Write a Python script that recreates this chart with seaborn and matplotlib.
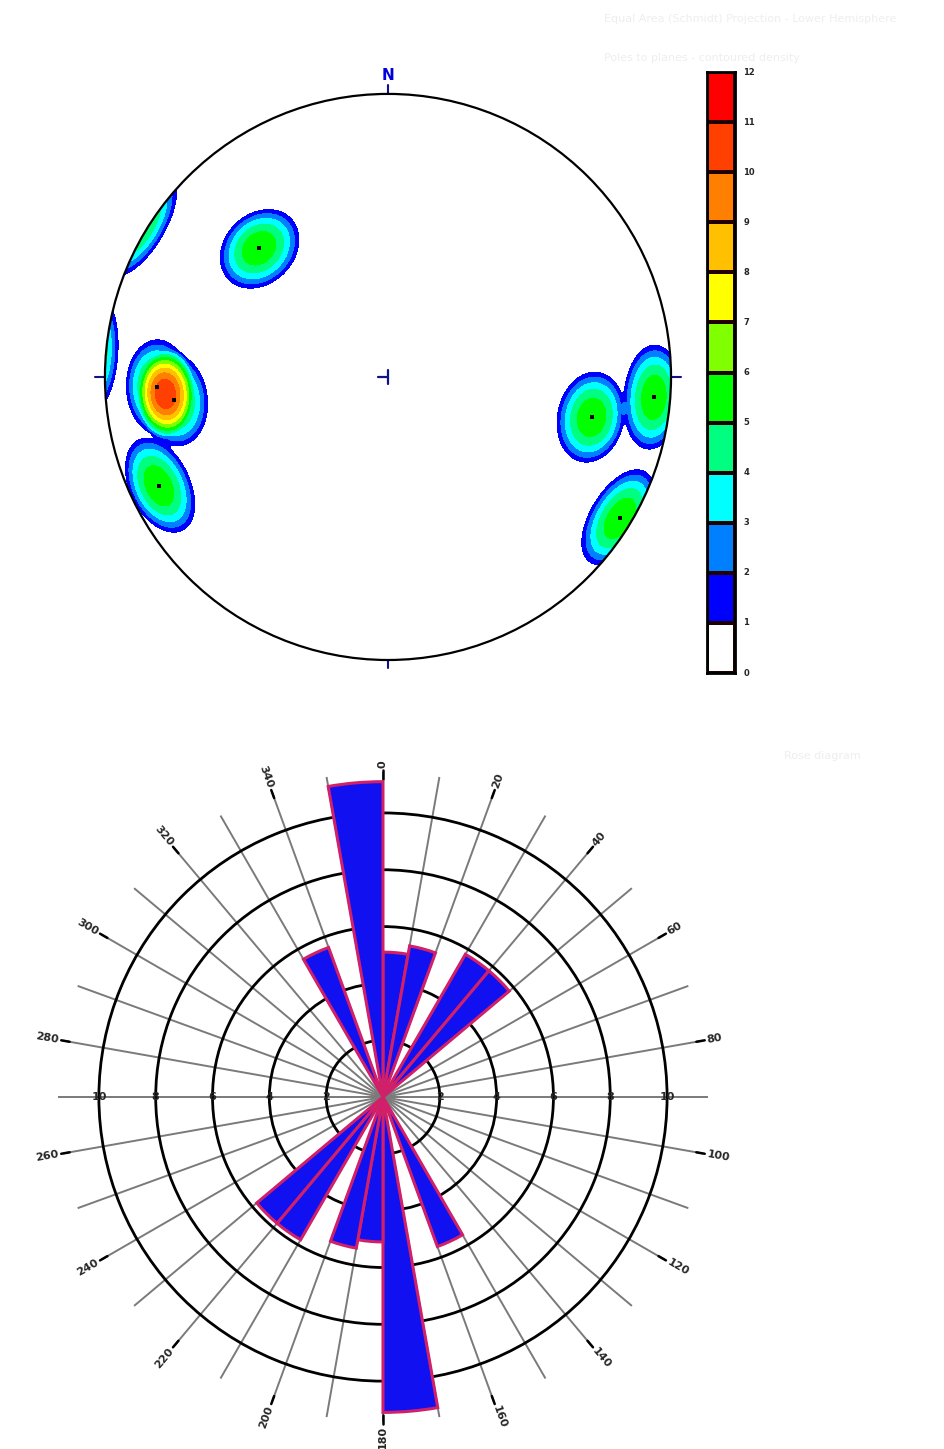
import numpy as np
import matplotlib
matplotlib.use('Agg')
import matplotlib.pyplot as plt
from matplotlib.colors import ListedColormap
from matplotlib.patches import Circle
import seaborn as sns

sns.set_theme(style='white')
plt.rcParams['font.family'] = ['DejaVu Sans']

# --- stereonet data: poles (equal-area projection, unit circle) ---
pole_x = [-0.456, -0.816, -0.757, -0.810, 0.720, 0.940, 0.820]
pole_y = [0.455, -0.037, -0.082, -0.385, -0.143, -0.072, -0.500]

band_colors = ['#ffffff', '#0000ff', '#0080ff', '#00ffff', '#00ff80', '#00ff00',
               '#80ff00', '#ffff00', '#ffc000', '#ff8000', '#ff4000', '#ff0000']
cbar_labels = ['0', '1', '2', '3', '4', '5', '6', '7', '8', '9', '10', '11', '12']

# --- rose diagram data: 10 degree bins 0-180 (mirrored for 180-360) ---
half_bins = list(range(0, 180, 10))
half_counts = [5.1, 5.4, 0, 5.8, 5.8, 0, 0, 0, 0, 0, 0, 0, 0, 0, 0, 5.6, 0, 11.1]
ring_values = [2, 4, 6, 8, 10]
dir_labels = list(range(0, 360, 20))


def to_vec(x, y):
    # lower hemisphere equal-area (Schmidt) -> unit vector
    r = np.sqrt(np.asarray(x) ** 2 + np.asarray(y) ** 2)
    th = 2 * np.arcsin(np.clip(r / np.sqrt(2), 0, 1))
    ph = np.arctan2(y, x)
    return np.stack([np.sin(th) * np.cos(ph), np.sin(th) * np.sin(ph), -np.cos(th)], -1)


fig = plt.figure(figsize=(9.44, 14.49), dpi=100)

# ==================== stereonet ====================
ax = fig.add_axes([0.0662, 0.5152, 0.6896, 0.4493])
g = np.linspace(-1.0, 1.0, 500)
gx, gy = np.meshgrid(g, g)
gv = to_vec(gx, gy)
pv = to_vec(pole_x, pole_y)
a0 = np.radians(12.2)
dens = np.zeros_like(gx)
for p in pv:
    ang = np.arccos(np.clip(np.abs(gv @ p), -1, 1))
    dens += np.clip(1 - (ang / a0) ** 2, 0, None)
dens = np.ma.masked_where(gx ** 2 + gy ** 2 > 1.0, dens)

w = 0.17
levels = [i * w for i in range(12)] + [10.0]
cs = ax.contourf(gx, gy, dens, levels=levels, colors=band_colors)
circ = Circle((0, 0), 1.0, transform=ax.transData, facecolor='none', edgecolor='none')
ax.add_patch(circ)
cs.set_clip_path(circ)
ax.add_patch(Circle((0, 0), 1.0, fill=False, lw=1.6, ec='black', zorder=4))
ax.scatter(pole_x, pole_y, s=8, c='black', marker='s', zorder=6, linewidths=0)

navy = '#10108a'
ax.plot([0, 0], [1.0, 1.03], color=navy, lw=1.5)
ax.plot([1.0, 1.035], [0, 0], color=navy, lw=1.5)
ax.plot([-1.035, -1.0], [0, 0], color=navy, lw=1.5)
ax.plot([0, 0], [-1.0, -1.03], color=navy, lw=1.5)
ax.plot([-0.035, 0.0], [0, 0], color=navy, lw=1.6)
ax.plot([0, 0], [-0.025, 0.025], color=navy, lw=1.6)
ax.text(0, 1.065, 'N', color='#0000dd', fontsize=11, fontweight='bold', ha='center', va='center')
ax.set_xlim(-1.15, 1.15)
ax.set_ylim(-1.15, 1.15)
ax.set_aspect('equal')
ax.axis('off')

# colour scale boxes
cb_ax = fig.add_axes([0.749, 0.5355, 0.0297, 0.4148])
vals = np.arange(12)[::-1].reshape(-1, 1)
sns.heatmap(vals, ax=cb_ax, cmap=ListedColormap(band_colors), cbar=False, vmin=-0.5, vmax=11.5,
            linewidths=1.5, linecolor='#200000', xticklabels=False, yticklabels=False)
for s in cb_ax.spines.values():
    s.set_visible(True)
    s.set_color('black')
    s.set_linewidth(2)
for i, lab in enumerate(cbar_labels[::-1]):
    cb_ax.text(1.3, i, lab, fontsize=6, fontweight='bold', ha='left', va='center', clip_on=False)

fig.text(0.64, 0.985, 'Equal Area (Schmidt) Projection - Lower Hemisphere', color='#eeeeee', fontsize=8)
fig.text(0.64, 0.958, 'Poles to planes - contoured density', color='#eeeeee', fontsize=8)
fig.text(0.83, 0.476, 'Rose diagram', color='#eeeeee', fontsize=8)

# ==================== rose diagram ====================
rax = fig.add_axes([0.0614, 0.0186, 0.6886, 0.4486], projection='polar')
rax.set_theta_zero_location('N')
rax.set_theta_direction(-1)
bins = half_bins + [b + 180 for b in half_bins]
counts = half_counts + half_counts
for b, c in zip(bins, counts):
    if c > 0:
        rax.bar(np.radians(b + 5), c, width=np.radians(10), bottom=0, color='#1010f0',
                edgecolor='#d0206a', linewidth=2.2, zorder=3)
rax.set_ylim(0, 11.44)
rax.set_thetagrids(range(0, 360, 10), labels=[])
rax.set_rgrids(ring_values, labels=[])
rax.xaxis.grid(True, color='#7a7a7a', lw=1.4)
rax.yaxis.grid(True, color='black', lw=2.0)
rax.set_axisbelow(True)
rax.spines['polar'].set_visible(False)
rax.set_facecolor('white')

for a in dir_labels:
    t = np.radians(a)
    rax.plot([t, t], [11.2, 11.5], color='black', lw=1.8, clip_on=False)
    rot = 90 - a
    while rot <= -90:
        rot += 180
    while rot > 90:
        rot -= 180
    rax.text(t, 11.6 + 0.13 * len(str(a)), str(a), rotation=rot, ha='center', va='center',
             fontsize=8, fontweight='bold', clip_on=False)
for r in ring_values:
    for a in (90, 270):
        rax.text(np.radians(a), r, str(r), fontsize=8, fontweight='bold', ha='center',
                 va='center', zorder=4)

fig.savefig('out.png', dpi=100)
